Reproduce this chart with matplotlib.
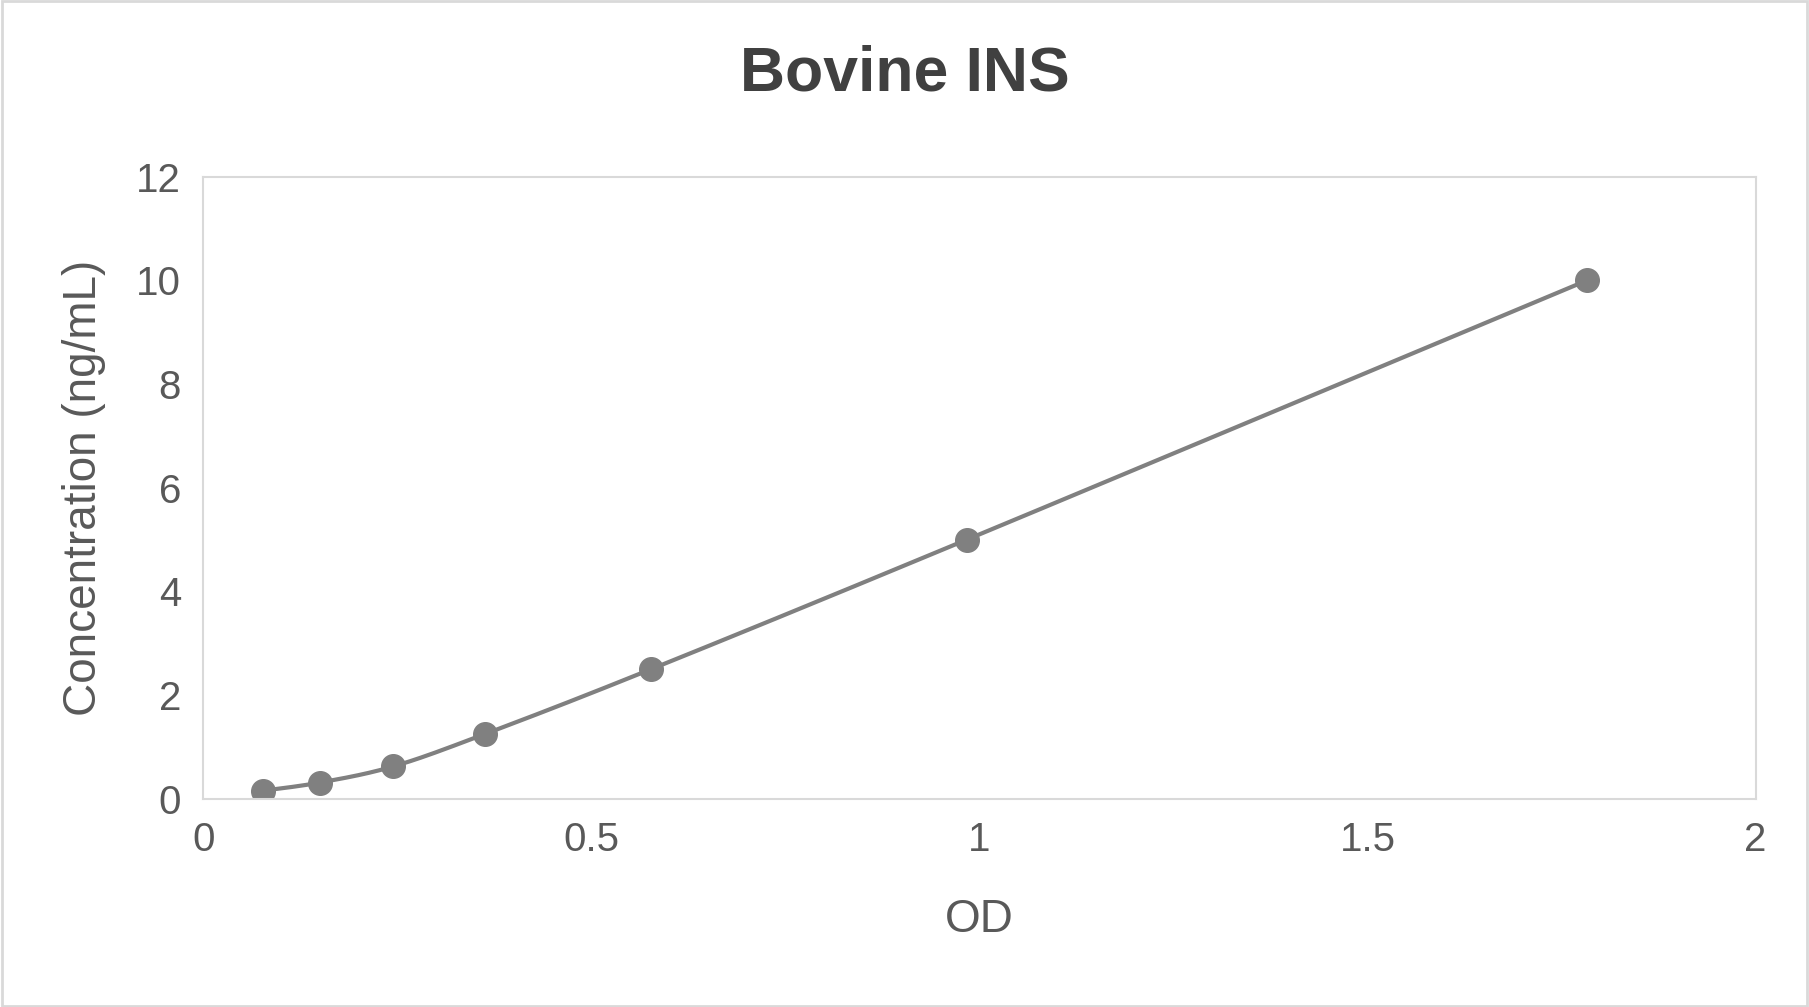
import matplotlib
matplotlib.use('Agg')
import matplotlib.pyplot as plt
import numpy as np

plt.rcParams['font.family'] = ['Liberation Sans', 'DejaVu Sans']

od = [0.077, 0.150, 0.245, 0.363, 0.577, 0.984, 1.783]
conc = [0.156, 0.312, 0.625, 1.25, 2.5, 5, 10]


def catmull_rom(xs, ys, n=30):
    # smooth line through the points, like Excel's smoothed line
    p = np.column_stack([xs, ys])
    p = np.vstack([p[0], p, p[-1]])
    out = []
    for i in range(1, len(p) - 2):
        p0, p1, p2, p3 = p[i - 1], p[i], p[i + 1], p[i + 2]
        t = np.linspace(0, 1, n)[:, None]
        out.append(0.5 * (2 * p1 + (-p0 + p2) * t + (2 * p0 - 5 * p1 + 4 * p2 - p3) * t ** 2
                          + (-p0 + 3 * p1 - 3 * p2 + p3) * t ** 3))
    c = np.vstack(out)
    return c[:, 0], c[:, 1]


fig = plt.figure(figsize=(18.09, 10.07), dpi=100)
ax = fig.add_axes([0.1124, 0.2068, 0.8581, 0.6178])

sx, sy = catmull_rom(od, conc)
ax.plot(sx, sy, color='#808080', lw=3)
ax.plot(od, conc, 'o', color='#808080', ms=17)

ax.set_xlim(0, 2)
ax.set_ylim(0, 12)
ax.set_xticks([0, 0.5, 1, 1.5, 2])
ax.set_xticklabels(['0', '0.5', '1', '1.5', '2'])
ax.set_yticks(range(0, 13, 2))
for s in ax.spines.values():
    s.set_color('#d9d9d9')
    s.set_linewidth(1.5)
ax.tick_params(length=0, labelsize=29, colors='#595959', pad=16)
ax.set_xlabel('OD', fontsize=33, color='#595959', labelpad=28)
ax.set_ylabel('Concentration (ng/mL)', fontsize=33, color='#595959', labelpad=22)
fig.text(0.5, 0.927, 'Bovine INS', ha='center', va='center', fontsize=45,
         fontweight='bold', color='#404040')

fig.patches.append(plt.Rectangle((0.001, 0.001), 0.998, 0.998, transform=fig.transFigure,
                                 fill=False, edgecolor='#d9d9d9', lw=2))
fig.savefig('out.png', dpi=100)
